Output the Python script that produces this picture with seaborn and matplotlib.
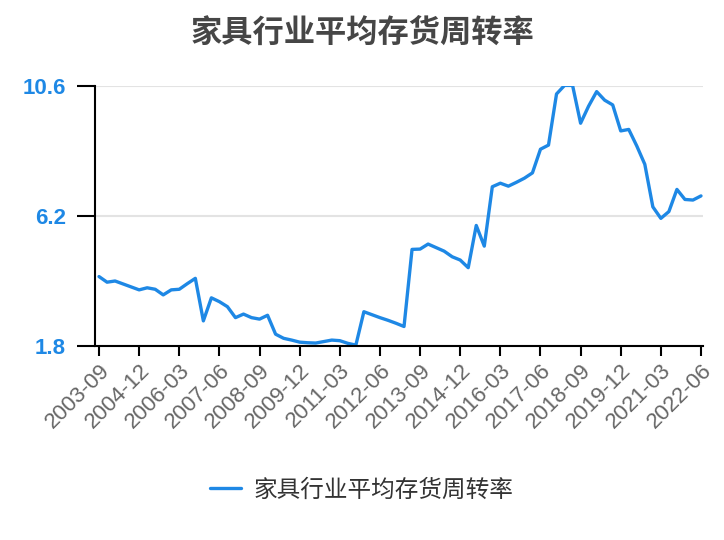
import numpy as np
import pandas as pd
import seaborn as sns
import matplotlib.pyplot as plt

# ── Data (quarterly) ─────────────────────────────────────────────────
TITLE = "家具行业平均存货周转率"
SERIES_NAME = "家具行业平均存货周转率"

quarters = pd.period_range("2003Q3", "2022Q2", freq="Q")
quarter_labels = [f"{p.year}-{p.quarter * 3:02d}" for p in quarters]

turnover = [
    4.15, 3.96, 4.00, 3.90, 3.80, 3.70, 3.77, 3.72, 3.53, 3.70,
    3.72, 3.91, 4.09, 2.65, 3.43, 3.30, 3.13, 2.76, 2.88, 2.76,
    2.71, 2.84, 2.20, 2.06, 2.00, 1.93, 1.91, 1.90, 1.95, 2.00,
    1.98, 1.89, 1.83, 2.96, 2.86, 2.76, 2.67, 2.57, 2.46, 5.07,
    5.08, 5.25, 5.13, 5.01, 4.82, 4.71, 4.45, 5.88, 5.18, 7.19,
    7.31, 7.21, 7.34, 7.48, 7.66, 8.46, 8.60, 10.33, 10.62, 10.62,
    9.34, 9.92, 10.41, 10.12, 9.96, 9.08, 9.13, 8.57, 7.95, 6.51,
    6.12, 6.35, 7.10, 6.76, 6.74, 6.88,
]

y_ticks = [1.8, 6.2, 10.6]
tick_every = 5

BLUE = "#1E88E5"

df = pd.DataFrame({"idx": np.arange(len(turnover)), "value": turnover})

# ── Plot ─────────────────────────────────────────────────────────────
sns.set_theme(style="white")
plt.rcParams["font.family"] = ["Noto Sans CJK SC", "DejaVu Sans"]

fig = plt.figure(figsize=(7.24, 5.40), dpi=100)
ax = fig.add_axes([95 / 724, 1 - 346 / 540, 608 / 724, 260 / 540])

sns.lineplot(data=df, x="idx", y="value", ax=ax, color=BLUE, lw=2.4,
             label=SERIES_NAME, legend=False)

ax.set_ylim(y_ticks[0], y_ticks[-1])
ax.set_xlim(-0.5, len(turnover) - 0.75)
ax.set_yticks(y_ticks)
ax.set_yticklabels([f"{v:.1f}" for v in y_ticks], family="Liberation Sans",
                   fontsize=16, fontweight="bold", color=BLUE)
xt = list(range(0, len(turnover), tick_every))
ax.set_xticks(xt)
ax.set_xticklabels([quarter_labels[i] for i in xt], rotation=45, ha="right",
                   rotation_mode="anchor", family="Liberation Sans",
                   fontsize=16, color="#666666")
ax.set_xlabel("")
ax.set_ylabel("")

ax.grid(axis="y", color="#e3e3e3", lw=1.5)
ax.set_axisbelow(True)
for side in ["top", "right"]:
    ax.spines[side].set_visible(False)
for side in ["left", "bottom"]:
    ax.spines[side].set_color("black")
    ax.spines[side].set_linewidth(1.5)
ax.tick_params(axis="y", length=13, width=1.5, color="black", pad=8, left=True)
ax.tick_params(axis="x", length=7, width=1.5, color="black", pad=3, bottom=True)

fig.text(0.5, 1 - 33 / 540, TITLE, ha="center", va="center", fontsize=22.5,
         fontweight="bold", color="#464646")

handles, labels = ax.get_legend_handles_labels()
fig.legend(handles, labels, loc="center", bbox_to_anchor=(0.5, 1 - 490 / 540),
           frameon=False, fontsize=17, handlelength=1.3, handletextpad=0.55,
           labelcolor="#333333")

fig.savefig("out.png", dpi=100)
